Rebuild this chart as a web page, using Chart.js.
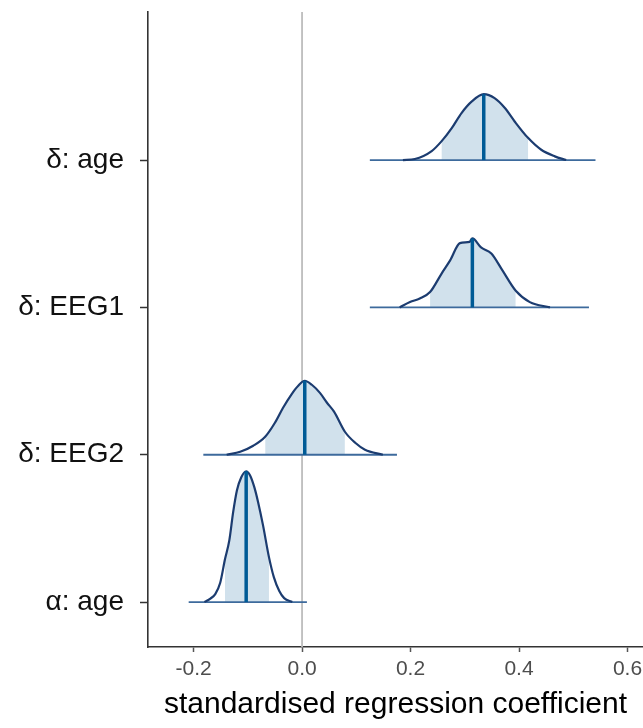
<!DOCTYPE html>
<html>
<head>
<meta charset="utf-8">
<script src="https://cdn.jsdelivr.net/npm/chart.js@4.4.0/dist/chart.umd.min.js"></script>
<style>
html,body{margin:0;padding:0;background:#fff;overflow:hidden}
#wrap{width:643px;height:728px;position:relative}
</style>
</head>
<body>
<div id="wrap"><canvas id="c"></canvas></div>
<script>
// Categories, bottom to top (row index = y value)
const categories = ['α: age', 'δ: EEG2', 'δ: EEG1', 'δ: age'];
const xTicks = [-0.2, 0.0, 0.2, 0.4, 0.6];
const xTitle = 'standardised regression coefficient';
const refLine = 0;

// Posterior density curves (x = coefficient, density = height in row units)
const alphaAgeX = [-0.180, -0.169, -0.160, -0.151, -0.142, -0.134, -0.127, -0.120, -0.112, -0.103, -0.096, -0.088, -0.081, -0.072, -0.061, -0.052, -0.042, -0.033, -0.018];
const alphaAgeDensity = [0, 0.024, 0.054, 0.129, 0.292, 0.420, 0.610, 0.759, 0.847, 0.888, 0.861, 0.780, 0.678, 0.522, 0.305, 0.169, 0.075, 0.027, 0];

const deltaEEG2X = [-0.139, -0.114, -0.090, -0.068, -0.050, -0.035, -0.020, -0.007, 0.005, 0.018, 0.033, 0.046, 0.059, 0.079, 0.098, 0.116, 0.149];
const deltaEEG2Density = [0, 0.020, 0.061, 0.122, 0.217, 0.319, 0.407, 0.468, 0.502, 0.475, 0.420, 0.353, 0.292, 0.156, 0.081, 0.034, 0];

const deltaEEG1X = [0.180, 0.199, 0.217, 0.236, 0.257, 0.273, 0.291, 0.309, 0.314, 0.330, 0.349, 0.368, 0.394, 0.420, 0.457];
const deltaEEG1Density = [0, 0.036, 0.060, 0.104, 0.228, 0.319, 0.436, 0.445, 0.468, 0.407, 0.366, 0.260, 0.113, 0.036, 0];

const deltaAgeX = [0.186, 0.208, 0.239, 0.257, 0.276, 0.294, 0.313, 0.335, 0.355, 0.374, 0.392, 0.417, 0.441, 0.466, 0.487];
const deltaAgeDensity = [0, 0.007, 0.061, 0.127, 0.217, 0.319, 0.398, 0.447, 0.420, 0.353, 0.262, 0.149, 0.070, 0.025, 0];

// Summaries per row (same order as categories)
const medians = [-0.103, 0.005, 0.314, 0.335];
const innerLo = [-0.142, -0.068, 0.236, 0.257];
const innerHi = [-0.061, 0.079, 0.394, 0.417];
const rangeLo = [-0.209, -0.182, 0.125, 0.125];
const rangeHi = [0.009, 0.175, 0.529, 0.541];

const curvesX = [alphaAgeX, deltaEEG2X, deltaEEG1X, deltaAgeX];
const curvesD = [alphaAgeDensity, deltaEEG2Density, deltaEEG1Density, deltaAgeDensity];

const yMin = -0.305, yMax = 4.005;
const xMin = -0.284, xMax = 0.6286;

const COL_FILL = '#d1e1ec';
const COL_LINE = '#1c3c70';
const COL_MED = '#005b96';
const COL_BASE = '#3d6a9c';

const datasets = [];
// reference line at 0 (behind)
datasets.push({
  data: [{x: refLine, y: yMin}, {x: refLine, y: yMax}],
  borderColor: '#bdbdbd', borderWidth: 1.8, pointRadius: 0, fill: false, order: 10
});
categories.forEach((name, i) => {
  const xs = curvesX[i], ds = curvesD[i];
  const pts = xs.map((x, k) => ({x: x, y: i + ds[k]}));
  const inner = pts.filter(p => p.x >= innerLo[i] - 1e-9 && p.x <= innerHi[i] + 1e-9);
  const mi = xs.indexOf(medians[i]);
  const medH = mi >= 0 ? ds[mi] : Math.max(...ds);
  // shaded inner interval
  datasets.push({
    data: inner, borderWidth: 0, borderColor: 'rgba(0,0,0,0)', backgroundColor: COL_FILL,
    fill: {value: i}, pointRadius: 0, cubicInterpolationMode: 'monotone', order: 8
  });
  // baseline across full range
  datasets.push({
    data: [{x: rangeLo[i], y: i}, {x: rangeHi[i], y: i}],
    borderColor: COL_BASE, borderWidth: 1.8, pointRadius: 0, fill: false, order: 6
  });
  // density outline
  datasets.push({
    data: pts, borderColor: COL_LINE, borderWidth: 2.2, pointRadius: 0, fill: false,
    cubicInterpolationMode: 'monotone', order: 4
  });
  // median line
  datasets.push({
    data: [{x: medians[i], y: i}, {x: medians[i], y: i + medH}],
    borderColor: COL_MED, borderWidth: 3.5, pointRadius: 0, fill: false, order: 2
  });
});

new Chart(document.getElementById('c'), {
  type: 'line',
  data: {datasets: datasets},
  options: {
    responsive: true,
    maintainAspectRatio: false,
    animation: false,
    layout: {padding: {top: 12, right: 0, bottom: 0, left: 0}},
    plugins: {legend: {display: false}, tooltip: {enabled: false}},
    scales: {
      x: {
        type: 'linear', min: xMin, max: xMax,
        afterBuildTicks: s => { s.ticks = xTicks.map(v => ({value: v})); },
        afterFit: s => { s.height = 81; s.paddingLeft = 0; s.paddingRight = 0; },
        ticks: {
          autoSkip: false, maxRotation: 0, minRotation: 0, padding: 5,
          color: '#4d4d4d', font: {family: 'Liberation Sans', size: 21},
          callback: v => Number(v).toFixed(1)
        },
        grid: {drawOnChartArea: false, drawTicks: true, tickLength: 5, tickColor: '#555', tickWidth: 1.5},
        border: {display: true, color: '#333', width: 1.6},
        title: {display: true, text: xTitle, color: '#000', padding: {top: 0, bottom: 5},
          font: {family: 'Liberation Sans', size: 30}}
      },
      y: {
        type: 'linear', min: yMin, max: yMax,
        afterBuildTicks: s => { s.ticks = categories.map((c, i) => ({value: i})); },
        afterFit: s => { s.width = 148; s.paddingTop = 0; s.paddingBottom = 0; },
        ticks: {
          autoSkip: false, padding: 16, color: '#111',
          font: {family: 'Liberation Sans', size: 28},
          callback: v => categories[v]
        },
        grid: {drawOnChartArea: false, drawTicks: true, tickLength: 8, tickColor: '#333', tickWidth: 1.5},
        border: {display: true, color: '#333', width: 1.6}
      }
    }
  }
});
</script>
</body>
</html>
